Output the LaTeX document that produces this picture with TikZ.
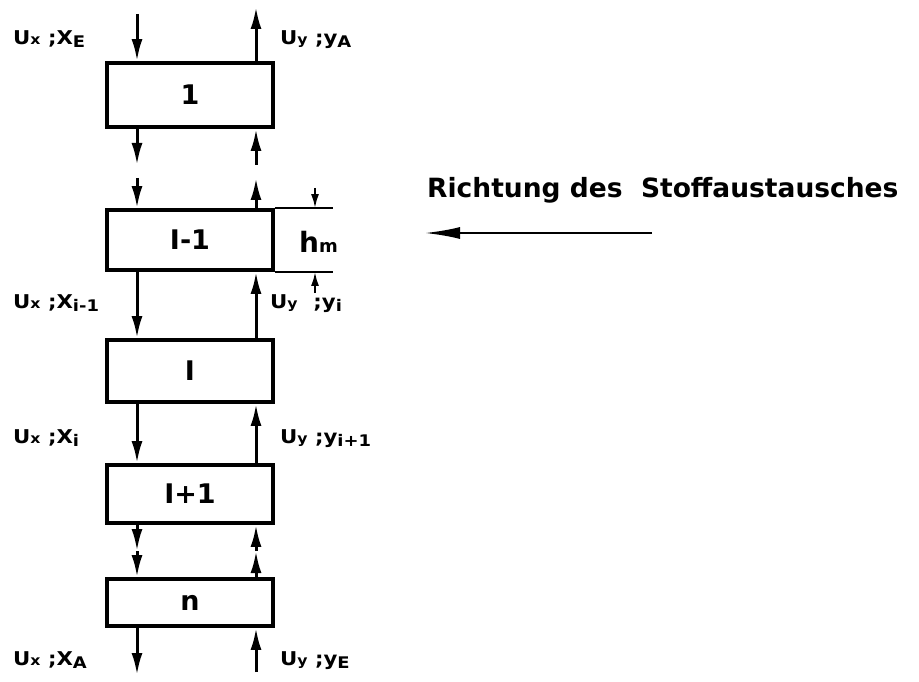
\documentclass[tikz,border=0pt]{standalone}
\usepackage{fontspec}
\setmainfont{DejaVu Sans}
\usetikzlibrary{arrows.meta,calc}
% index letters: on the baseline, or slightly lowered
\newcommand\ix[1]{{\fontsize{14}{14}\selectfont #1}}
\newcommand\dx[1]{\raisebox{-3pt}{\fontsize{16}{16}\selectfont #1}}
% stream label set a little wider than the font
\newcommand\slab[1]{\scalebox{1.12}[1]{#1}}
\begin{document}
\begin{tikzpicture}[x=1pt,y=-1pt,
  stage/.style={draw,line width=3.8pt,minimum width=166pt,inner sep=0pt,
    font=\bfseries\fontsize{27}{27}\selectfont},
  flow/.style={line width=3pt,-{Latex[length=22pt,width=11pt]}},
  dimline/.style={line width=1.6pt},
  dimarrow/.style={line width=2.2pt,-{Latex[length=14pt,width=8pt]}},
  lbl/.style={font=\bfseries\fontsize{19}{19}\selectfont,inner sep=0pt,anchor=base west},
]
\useasboundingbox (0,0) rectangle (919,682);

% stages of the column
\node[stage,minimum height=64pt] (b1) at (190,95) {1};
\node[stage,minimum height=60pt] (b2) at (190,240) {I-1};
\node[stage,minimum height=62pt] (b3) at (190,371) {I};
\node[stage,minimum height=58pt] (b4) at (190,494) {I+1};
\node[stage,minimum height=47pt] (b5) at (190,602.5) {n};

% x positions of the two streams
\coordinate (lx) at (137,0);
\coordinate (rx) at (256,0);

% inlet / outlet at the top
\coordinate (tin) at (137,14);
\coordinate (tout) at (256,7);
\draw[flow] (tin) -- (tin |- b1.north);
\draw[flow] (tout |- b1.north) -- (tout);

% interrupted section between stage 1 and stage i-1
\coordinate (g1) at (137,165);
\coordinate (g2) at (256,165);
\coordinate (g3) at (137,178);
\coordinate (g4) at (256,178);
\draw[flow] (b1.south -| lx) -- (g1);
\draw[flow] (g2) -- (b1.south -| rx);
\draw[flow] (g3) -- (b2.north -| lx);
\draw[flow] (b2.north -| rx) -- (g4);

% streams between neighbouring stages
\draw[flow] (b2.south -| lx) -- (b3.north -| lx);
\draw[flow] (b3.north -| rx) -- (b2.south -| rx);
\draw[flow] (b3.south -| lx) -- (b4.north -| lx);
\draw[flow] (b4.north -| rx) -- (b3.south -| rx);

% section between stage i+1 and stage n
\coordinate (m1) at (137,551);
\coordinate (m2) at (256,551);
\draw[flow] (b4.south -| lx) -- (m1);
\draw[flow] (m1) -- (b5.north -| lx);
\draw[flow] (b5.north -| rx) -- (m2);
\draw[flow] (m2) -- (b4.south -| rx);

% inlet / outlet at the bottom
\coordinate (bout) at (137,675);
\coordinate (bin) at (256,672);
\draw[flow] (b5.south -| lx) -- (bout);
\draw[flow] (bin) -- (b5.south -| rx);

% stage height h_m
\coordinate (dx) at (333,0);
\coordinate (da) at (315,188);
\coordinate (db) at (315,293);
\draw[dimline] (b2.north east) -- (b2.north east -| dx);
\draw[dimline] (b2.south east) -- (b2.south east -| dx);
\draw[dimarrow] (da) -- (da |- b2.north east);
\draw[dimarrow] (db) -- (db |- b2.south east);
\node[lbl,font=\bfseries\fontsize{28}{28}\selectfont] (hm) at (299,252)
  {h{\fontsize{18}{18}\selectfont m}};

% stream labels
\node[lbl] (l1) at (13,45) {\slab{U\ix{x} ;X\dx{E}}};
\node[lbl] (r1) at (280,45) {\slab{U\ix{y} ;y\dx{A}}};
\node[lbl] (l2) at (13,308) {\slab{U\ix{x} ;X\dx{i-1}}};
\node[lbl] (r2) at (270,308) {\slab{U\ix{y}\hspace{14pt};y\dx{i}}};
\node[lbl] (l3) at (13,443) {\slab{U\ix{x} ;X\dx{i}}};
\node[lbl] (r3) at (280,443) {\slab{U\ix{y} ;y\dx{i+1}}};
\node[lbl] (l4) at (13,665) {\slab{U\ix{x} ;X\dx{A}}};
\node[lbl] (r4) at (280,665) {\slab{U\ix{y} ;y\dx{E}}};

% direction of mass transfer
\node[inner sep=0pt,anchor=base west,font=\bfseries\fontsize{26.5}{26.5}\selectfont] (rt) at (427,197)
  {Richtung des\ \ Stoffaustausches};
\coordinate (ha) at (652,233);
\coordinate (hb) at (425,233);
\draw[line width=2.2pt,-{Latex[length=35pt,width=12pt]}] (ha) -- (hb);
\end{tikzpicture}
\end{document}
